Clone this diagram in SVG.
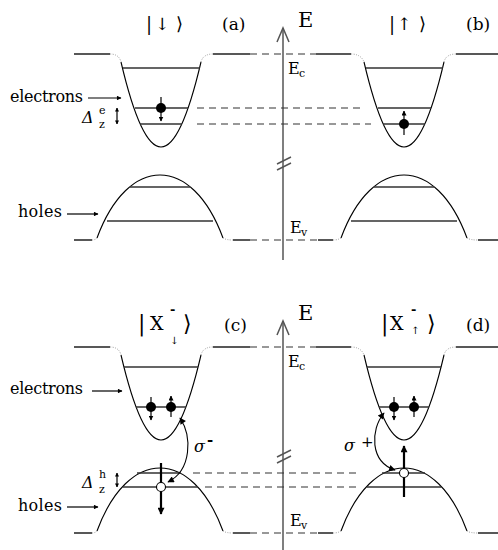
<svg xmlns="http://www.w3.org/2000/svg" width="498" height="550" viewBox="0 0 498 550">
<defs>
<style>
.band{fill:none;stroke:#000;stroke-width:1.1}
.edge{fill:none;stroke:#222;stroke-width:1.3}
.dt{fill:none;stroke:#999;stroke-width:1;stroke-dasharray:1,1.4}
.lvl{stroke:#333;stroke-width:1.3}
.dash{stroke:#333;stroke-width:1.2;stroke-dasharray:7,5;fill:none}
.axis{stroke:#555;stroke-width:1.5;fill:none}
.spin{stroke:#000;stroke-width:1.2}
.bold{stroke:#000;stroke-width:2.2}
.lab{stroke:#000;stroke-width:1.2}
.cur{fill:none;stroke:#000;stroke-width:1.1}
</style>
<marker id="sa" viewBox="0 0 10 10" refX="9" refY="5" markerWidth="5" markerHeight="5" markerUnits="userSpaceOnUse" orient="auto"><path d="M0,0 L10,5 L0,10 z"/></marker>
<marker id="la" viewBox="0 0 10 10" refX="9" refY="5" markerWidth="7" markerHeight="4.5" markerUnits="userSpaceOnUse" orient="auto"><path d="M0,0 L10,5 L0,10 z"/></marker>
<marker id="ba" viewBox="0 0 10 10" refX="9" refY="5" markerWidth="9" markerHeight="7" markerUnits="userSpaceOnUse" orient="auto"><path d="M0,0 L10,5 L0,10 z"/></marker>
<marker id="ca" viewBox="0 0 10 10" refX="9" refY="5" markerWidth="9" markerHeight="6.5" markerUnits="userSpaceOnUse" orient="auto-start-reverse"><path d="M0,0 L10,5 L0,10 z"/></marker>
<marker id="da" viewBox="0 0 10 10" refX="9" refY="5" markerWidth="4" markerHeight="4.5" markerUnits="userSpaceOnUse" orient="auto-start-reverse"><path d="M0,0 L10,5 L0,10 z"/></marker>
</defs>
<rect width="498" height="550" fill="#fff"/>

<g font-family="'DejaVu Serif', serif" fill="#000">

<g id="axis-top">
<path class="axis" d="M283,28 V260"/>
<path class="axis" d="M277,42 L283,28 L289,42"/>
<path class="axis" stroke-width="1.1" d="M277,164 L291,157 M277,170 L291,163"/>
<text x="298" y="27" font-size="21">E</text>
<text x="288" y="74" font-size="16">E</text><text x="299" y="77" font-size="11">c</text>
<text x="290" y="233" font-size="16">E</text><text x="301" y="236" font-size="11">v</text>
</g>

<g id="panel-a">
<path class="edge" d="M74,54 H110 M213,54 H250 M74,240 H92 M233,240 H250"/>
<path class="dt" d="M110,54 Q119,54 121,62 M201,62 Q203,54 213,54 M92,240 Q95,240 97,238 M223,238 Q226,240 233,240"/>
<path class="band" d="M121,62 Q161,232 201,62"/>
<path class="band" d="M97,238 C128,154 192,154 223,238"/>
<path class="lvl" d="M123,68 H200 M135,108 H188 M140,124 H182 M130,187 H190 M107,221 H213"/>
<text x="146" y="30" font-size="18">|</text>
<text x="155" y="30" font-size="17">↓</text>
<text x="176" y="30" font-size="18">⟩</text>
<text x="222" y="30" font-size="17">(a)</text>
</g>

<g id="panel-b">
<path class="edge" d="M316,54 H351 M456,54 H498 M318,240 H333 M478,240 H498"/>
<path class="dt" d="M351,54 Q361,54 364,62 M444,62 Q446,54 456,54 M333,240 Q338,240 341,238 M467,238 Q470,240 478,240"/>
<path class="band" d="M364,62 Q404,232 444,62"/>
<path class="band" d="M341,238 C372,154 436,154 467,238"/>
<path class="lvl" d="M366,68 H443 M378,108 H431 M383,124 H425 M374,187 H434 M351,221 H457"/>
<text x="389" y="30" font-size="18">|</text>
<text x="397" y="30" font-size="17">↑</text>
<text x="419" y="30" font-size="18">⟩</text>
<text x="466" y="30" font-size="17">(b)</text>
</g>

<g id="electron-a">
<circle cx="161" cy="108" r="5"/>
<line class="spin" x1="161" y1="97" x2="161" y2="121" marker-end="url(#sa)"/>
</g>
<g id="electron-b">
<circle cx="404" cy="124" r="5"/>
<line class="spin" x1="404" y1="135" x2="404" y2="111" marker-end="url(#sa)"/>
</g>

<g id="labels-top">
<text x="10" y="102" font-size="16" textLength="73" lengthAdjust="spacing">electrons</text>
<text x="18" y="217" font-size="16" textLength="44" lengthAdjust="spacing">holes</text>
<text x="82" y="123" font-size="16" font-style="italic">Δ</text>
<text x="99" y="114" font-size="11">e</text>
<text x="99" y="128" font-size="11">z</text>
</g>

<g id="axis-bottom">
<path class="axis" d="M283,321 V550"/>
<path class="axis" d="M277,335 L283,321 L289,335"/>
<path class="axis" stroke-width="1.1" d="M277,457 L291,450 M277,463 L291,456"/>
<text x="298" y="320" font-size="21">E</text>
<text x="288" y="367" font-size="16">E</text><text x="299" y="370" font-size="11">c</text>
<text x="290" y="526" font-size="16">E</text><text x="301" y="529" font-size="11">v</text>
</g>

<g id="panel-c">
<path class="edge" d="M74,347 H110 M213,347 H250 M74,533 H92 M233,533 H250"/>
<path class="dt" d="M110,347 Q119,347 121,355 M201,355 Q203,347 213,347 M92,533 Q95,533 97,531 M223,531 Q226,533 233,533"/>
<path class="band" d="M121,355 Q161,525 201,355"/>
<path class="band" d="M97,531 C128,447 192,447 223,531"/>
<path class="lvl" d="M124,367 H198 M136,407 H186 M137,473 H181 M123,487 H198"/>
<text x="138" y="331" font-size="22">|</text>
<text x="150" y="330" font-size="19">X</text>
<text x="170" y="314" font-size="13" font-weight="bold">-</text>
<text x="170" y="344" font-size="10">↓</text>
<text x="183" y="331" font-size="22">⟩</text>
<text x="224" y="331" font-size="17">(c)</text>
</g>

<g id="panel-d">
<path class="edge" d="M316,347 H351 M456,347 H498 M318,533 H333 M478,533 H498"/>
<path class="dt" d="M351,347 Q361,347 364,355 M444,355 Q446,347 456,347 M333,533 Q338,533 341,531 M467,531 Q470,533 478,533"/>
<path class="band" d="M364,355 Q404,525 444,355"/>
<path class="band" d="M341,531 C372,447 436,447 467,531"/>
<path class="lvl" d="M367,367 H441 M379,407 H429 M382,473 H425 M367,487 H441"/>
<text x="381" y="331" font-size="22">|</text>
<text x="390" y="330" font-size="19">X</text>
<text x="411" y="314" font-size="13" font-weight="bold">-</text>
<text x="411" y="334" font-size="10">↑</text>
<text x="427" y="331" font-size="22">⟩</text>
<text x="466" y="331" font-size="17">(d)</text>
</g>

<g id="electrons-c">
<circle cx="151" cy="407" r="5"/>
<line class="spin" x1="151" y1="397" x2="151" y2="420" marker-end="url(#sa)"/>
<circle cx="171" cy="407" r="5"/>
<line class="spin" x1="171" y1="417" x2="171" y2="396" marker-end="url(#sa)"/>
</g>
<g id="electrons-d">
<circle cx="394" cy="407" r="5"/>
<line class="spin" x1="394" y1="397" x2="394" y2="420" marker-end="url(#sa)"/>
<circle cx="414" cy="407" r="5"/>
<line class="spin" x1="414" y1="417" x2="414" y2="396" marker-end="url(#sa)"/>
</g>
<g id="hole-c">
<line class="bold" x1="161" y1="463" x2="161" y2="514" marker-end="url(#ba)"/>
<circle cx="161" cy="487" r="4.5" fill="#fff" stroke="#000" stroke-width="1.1"/>
</g>
<g id="hole-d">
<line class="bold" x1="404" y1="497" x2="404" y2="446" marker-end="url(#ba)"/>
<circle cx="404" cy="473" r="4.5" fill="#fff" stroke="#000" stroke-width="1.1"/>
</g>

<g id="labels-bottom">
<text x="10" y="394" font-size="16" textLength="73" lengthAdjust="spacing">electrons</text>
<text x="18" y="511" font-size="16" textLength="44" lengthAdjust="spacing">holes</text>
<text x="82" y="488" font-size="16" font-style="italic">Δ</text>
<text x="99" y="478" font-size="11">h</text>
<text x="99" y="493" font-size="11">z</text>
<text x="194" y="452" font-size="16" font-style="italic">σ</text>
<text x="207" y="445" font-size="15" font-weight="bold">-</text>
<text x="344" y="451" font-size="16" font-style="italic">σ</text>
<text x="361" y="447" font-size="15">+</text>
</g>

</g>

<g id="connectors">
<path class="dash" d="M250,54 H316 M250,240 H318 M250,347 H316 M250,533 H318"/>
<path class="dash" d="M197,108 H365 M197,124 H371 M193,473 H361 M205,487 H360"/>
<line class="lab" x1="88" y1="98" x2="121" y2="98" marker-end="url(#la)"/>
<line class="lab" x1="67" y1="214" x2="98" y2="214" marker-end="url(#la)"/>
<line class="lab" x1="92" y1="391" x2="122" y2="391" marker-end="url(#la)"/>
<line class="lab" x1="67" y1="507" x2="98" y2="507" marker-end="url(#la)"/>
<line class="lab" x1="117" y1="108" x2="117" y2="124" marker-start="url(#da)" marker-end="url(#da)"/>
<line class="lab" x1="117" y1="473" x2="117" y2="487" marker-start="url(#da)" marker-end="url(#da)"/>
<path class="cur" d="M180,418 C192,436 192,470 168,482" marker-start="url(#ca)" marker-end="url(#ca)"/>
<path class="cur" d="M384,413 C370,430 370,462 395,470" marker-start="url(#ca)" marker-end="url(#ca)"/>
</g>
</svg>
